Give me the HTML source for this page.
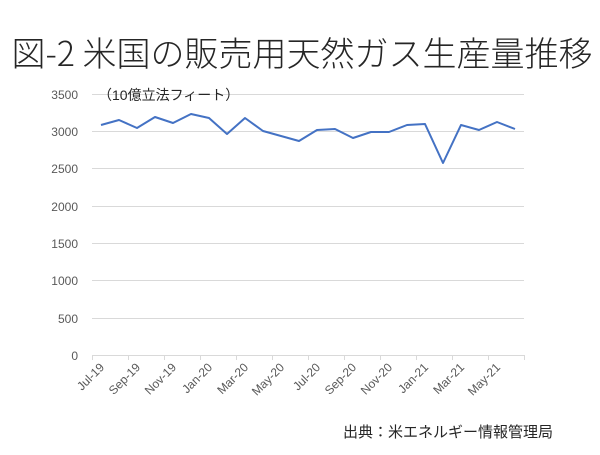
<!DOCTYPE html>
<html><head><meta charset="utf-8"><style>
body{margin:0;background:#fff;width:600px;height:450px;overflow:hidden}
</style></head><body>
<svg width="600" height="450" xmlns="http://www.w3.org/2000/svg" font-family="'Liberation Sans','Noto Sans CJK JP',sans-serif">
<text x="302" y="66" font-size="34" font-weight="300" text-anchor="middle" fill="#262626" font-family="'Noto Sans CJK JP',sans-serif">図-2 米国の販売用天然ガス生産量推移</text>
<g stroke="#d9d9d9" stroke-width="1">
<line x1="92" x2="524" y1="94.5" y2="94.5"/><line x1="92" x2="524" y1="131.5" y2="131.5"/>
<line x1="92" x2="524" y1="168.5" y2="168.5"/><line x1="92" x2="524" y1="206.5" y2="206.5"/>
<line x1="92" x2="524" y1="243.5" y2="243.5"/><line x1="92" x2="524" y1="280.5" y2="280.5"/>
<line x1="92" x2="524" y1="318.5" y2="318.5"/><line x1="92" x2="524" y1="355.5" y2="355.5"/>
<path d="M92.5 355v5M128.5 355v5M164.5 355v5M200.5 355v5M236.5 355v5M272.5 355v5M308.5 355v5M344.5 355v5M380.5 355v5M416.5 355v5M452.5 355v5M488.5 355v5M524.5 355v5"/>
</g>
<g font-size="12" fill="#595959" text-anchor="end">
<text x="78" y="99">3500</text><text x="78" y="136">3000</text><text x="78" y="173">2500</text>
<text x="78" y="211">2000</text><text x="78" y="248">1500</text><text x="78" y="285">1000</text>
<text x="78" y="323">500</text><text x="78" y="360">0</text>
</g>
<text x="98" y="100" font-size="14" fill="#262626">（10億立法フィート）</text>
<polyline fill="none" stroke="#4472c4" stroke-width="2" stroke-linejoin="round" points="101,125 119,120 137,128 155,117 173,123 191,114 209,118 227,134 245,118 263,131 281,136 299,141 317,130 335,129 353,138 371,132 389,132 407,125 425,124 443,163 461,125 479,130 497,122 515,129"/>
<g font-size="12" fill="#595959" text-anchor="end">
<text transform="translate(105,368) rotate(-45)">Jul-19</text>
<text transform="translate(141,368) rotate(-45)">Sep-19</text>
<text transform="translate(177,368) rotate(-45)">Nov-19</text>
<text transform="translate(213,368) rotate(-45)">Jan-20</text>
<text transform="translate(249,368) rotate(-45)">Mar-20</text>
<text transform="translate(285,368) rotate(-45)">May-20</text>
<text transform="translate(321,368) rotate(-45)">Jul-20</text>
<text transform="translate(357,368) rotate(-45)">Sep-20</text>
<text transform="translate(393,368) rotate(-45)">Nov-20</text>
<text transform="translate(429,368) rotate(-45)">Jan-21</text>
<text transform="translate(465,368) rotate(-45)">Mar-21</text>
<text transform="translate(501,368) rotate(-45)">May-21</text>
</g>
<text x="343" y="437" font-size="15" fill="#262626">出典：米エネルギー情報管理局</text>
</svg>
</body></html>
